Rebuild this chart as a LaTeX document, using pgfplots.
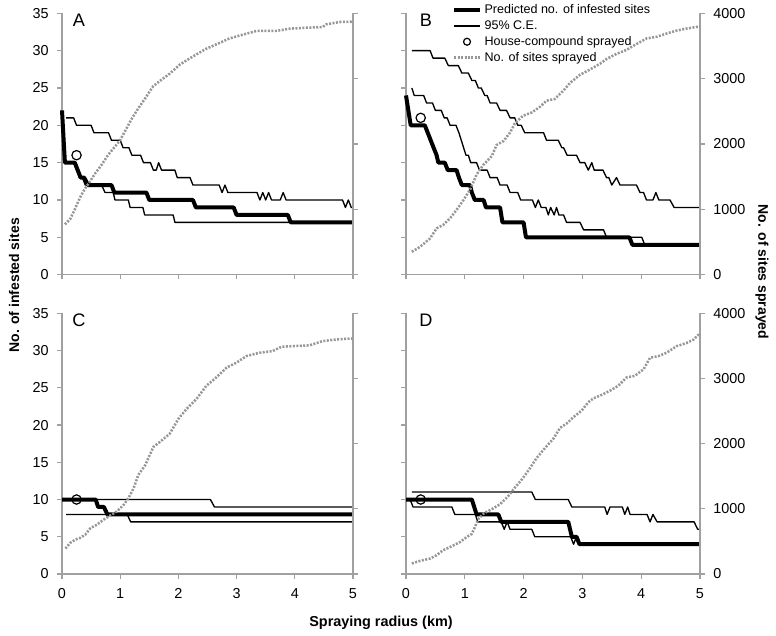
\documentclass[border=0pt]{standalone}
\usepackage{pgfplots}
\pgfplotsset{compat=1.18}
\usepackage{fontspec}
\setmainfont{Liberation Sans}
\definecolor{axgray}{RGB}{160,160,160}
\definecolor{dotgray}{RGB}{150,150,150}

\tikzset{
  thinl/.style={black, line width=1pt, line join=round},
  thickl/.style={black, line width=3pt, line join=round},
  dotl/.style={dotgray, line width=1.9pt, dash pattern=on 1.5pt off 1.1pt},
  circ/.style={only marks, mark=o, mark size=3.5pt, mark options={draw=black, fill=white, line width=0.9pt, solid}},
  letter/.style={font=\fontsize{13.6}{15}\selectfont},
}
\pgfplotsset{
  panel/.style={
    scale only axis,
    xmin=0, xmax=5,
    axis x line*=bottom,
    axis line style={draw=axgray, line width=0.9pt, -},
    tick style={draw=axgray, line width=0.9pt},
    tick align=outside,
    major tick length=3.5pt,
    xtick={0,1,2,3,4,5},
    ticklabel style={font=\fontsize{10.8}{13}\selectfont},
    xticklabel style={yshift=-4pt},
    /pgf/number format/assume math mode=true,
    /pgf/number format/1000 sep={},
    scaled ticks=false,
    clip=false,
  },
  leftax/.style={panel, ymin=0, ymax=35, ytick={0,5,...,35}, axis y line*=left, yticklabel style={xshift=-3pt}},
  rightax/.style={panel, ymin=0, ymax=4000, ytick={0,1000,...,4000}, axis y line*=right, axis x line=none, yticklabel style={xshift=3pt}},
}

\begin{document}
\begin{tikzpicture}
\path[use as bounding box] (0,0) rectangle (582pt,477pt);

% ---------------- Panel A ----------------
\begin{axis}[leftax, at={(46.5pt,271pt)}, anchor=south west, width=218.25pt, height=196pt, xticklabels={}]
\addplot[thinl, mark=none] table {
0.07 21
0.2 21
0.25 20
0.5 20
0.55 19
0.8 19
0.85 18
1.0 18
1.05 17
1.15 17
1.2 16
1.35 16
1.4 15
1.52 15
1.57 14
1.62 14
1.66 15
1.71 14
1.94 14
1.98 13
2.2 13
2.25 12
2.7 12
2.75 11
2.8 12
2.85 11
3.35 11
3.4 10
3.45 11
3.5 10
3.55 11
3.6 10
3.75 10
3.8 11
3.85 10
4.82 10
4.87 9
4.92 10
4.97 9
5 9
};
\addplot[thinl, mark=none] table {
0.07 15
0.2 15
0.25 14
0.3 13
0.35 13
0.4 12
0.68 12
0.74 11
0.88 11
0.91 10
1.14 10
1.17 9
1.39 9
1.42 8
1.91 8
1.94 7
5 7
};
\addplot[thickl, mark=none] table {
0 22
0.05 15
0.22 15
0.27 14
0.32 13
0.38 13
0.45 12
0.85 12
0.9 11
1.45 11
1.5 10
2.25 10
2.3 9
2.95 9
3.0 8
3.88 8
3.93 7
5 7
};
\addplot[circ] coordinates {(0.25,16)};
\node[letter] at (axis description cs:0.058,0.972) {A};
\end{axis}
\begin{axis}[rightax, at={(46.5pt,271pt)}, anchor=south west, width=218.25pt, height=196pt, yticklabels={}]
\addplot[dotl, mark=none] table {
0.05 770
0.14 850
0.22 1000
0.31 1180
0.39 1310
0.48 1425
0.57 1550
0.68 1680
0.79 1830
0.91 1960
1.0 2060
1.11 2240
1.2 2390
1.31 2545
1.43 2700
1.57 2888
1.68 2964
1.85 3076
2.03 3219
2.17 3296
2.31 3372
2.48 3459
2.68 3536
2.88 3617
3.17 3689
3.34 3730
3.68 3730
3.91 3765
4.2 3780
4.48 3790
4.54 3832
4.77 3867
5.0 3872
};
\end{axis}

% ---------------- Panel B ----------------
\begin{axis}[leftax, at={(304.5pt,271pt)}, anchor=south west, width=220.5pt, height=196pt, xticklabels={}, yticklabels={}]
\addplot[thinl, mark=none] table {
0.1 30
0.41 30
0.46 29
0.66 29
0.72 28
0.89 28
0.95 27
1.06 27
1.12 26
1.18 26
1.23 25
1.28 25
1.34 24
1.38 24
1.43 23
1.54 23
1.6 22
1.71 22
1.77 21
1.85 21
1.9 20
1.96 20
2.02 19
2.34 19
2.39 18
2.59 18
2.65 17
2.68 17
2.74 16
2.9 16
2.96 15
3.04 15
3.1 14
3.16 15
3.2 14
3.35 14
3.41 13
3.45 13
3.5 12
3.58 13
3.64 12
3.92 12
3.98 11
4.04 11
4.09 10
4.2 10
4.25 11
4.3 10
4.49 10
4.56 9
5 9
};
\addplot[thinl, mark=none] table {
0.1 25
0.14 24
0.3 24
0.35 23
0.45 23
0.5 22
0.6 22
0.65 21
0.7 21
0.75 20
0.85 20
0.9 19
0.94 18
0.98 17
1.02 16
1.06 16
1.1 15
1.2 15
1.25 14
1.38 14
1.43 13
1.55 13
1.6 12
1.72 12
1.77 11
1.9 11
1.95 10
2.15 10
2.2 9
2.25 10
2.3 9
2.38 9
2.42 8
2.46 9
2.52 8
2.56 9
2.6 8
2.68 8
2.73 7
2.96 7
3.02 6
3.36 6
3.41 5
4.01 5
4.06 4
5 4
};
\addplot[thickl, mark=none] table {
0 24
0.08 20
0.32 20
0.37 19
0.42 18
0.47 17
0.52 16
0.55 15
0.66 15
0.71 14
0.86 14
0.9 13
0.95 12
1.09 12
1.12 11
1.17 10
1.32 10
1.36 9
1.6 9
1.64 7
2.0 7
2.04 5
3.8 5
3.85 4
5 4
};
\addplot[circ] coordinates {(0.25,21)};
\node[letter] at (axis description cs:0.068,0.972) {B};
\end{axis}
\begin{axis}[rightax, at={(304.5pt,271pt)}, anchor=south west, width=220.5pt, height=196pt,
  legend style={at={(axis description cs:0.156,1.045)}, anchor=north west, draw=none, fill=none,
    font=\fontsize{9.4}{11}\selectfont, row sep=-0.3pt, inner sep=0pt, cells={anchor=west}},
  legend image code/.code={\draw[mark repeat=2,mark phase=2,#1] plot coordinates {(0cm,0cm) (0.34cm,0cm) (0.68cm,0cm)};}]
\addlegendimage{thickl, mark=none}
\addlegendimage{thinl, mark=none}
\addlegendimage{circ, mark size=2.6pt}
\addlegendimage{dotl, mark=none}
\addplot[dotl, mark=none, forget plot] table {
0.1 350
0.24 427
0.41 555
0.52 710
0.63 760
0.75 864
0.86 992
0.98 1146
1.09 1300
1.2 1532
1.32 1686
1.46 1815
1.54 1985
1.66 2046
1.77 2175
1.85 2314
1.99 2432
2.14 2483
2.28 2570
2.39 2663
2.53 2689
2.68 2820
2.79 2935
2.96 3060
3.13 3140
3.3 3229
3.41 3300
3.58 3380
3.75 3440
3.9 3520
4.09 3615
4.26 3640
4.43 3690
4.6 3735
4.77 3767
5.0 3800
};
\legend{Predicted no. of infested sites, 95\% C.E., House-compound sprayed, No. of sites sprayed}
\end{axis}

% ---------------- Panel C ----------------
\begin{axis}[leftax, at={(46.5pt,46.5pt)}, anchor=south west, width=218.25pt, height=195.5pt]
\addplot[thinl, mark=none] table {
0.07 10
2.55 10
2.62 9
5 9
};
\addplot[thinl, mark=none] table {
0.07 8
1.12 8
1.18 7
5 7
};
\addplot[thickl, mark=none] table {
0 10
0.58 10
0.62 9
0.72 9
0.78 8
5 8
};
\addplot[circ] coordinates {(0.25,10)};
\node[letter] at (axis description cs:0.058,0.972) {C};
\end{axis}
\begin{axis}[rightax, at={(46.5pt,46.5pt)}, anchor=south west, width=218.25pt, height=195.5pt, yticklabels={}]
\addplot[dotl, mark=none] table {
0.06 391
0.14 477
0.23 528
0.31 553
0.4 604
0.49 705
0.6 756
0.71 832
0.83 898
0.94 959
1.06 1061
1.14 1162
1.23 1315
1.31 1518
1.43 1670
1.57 1949
1.68 2025
1.85 2152
2.0 2381
2.14 2533
2.31 2685
2.48 2888
2.65 3015
2.83 3168
3.0 3244
3.17 3345
3.4 3396
3.62 3421
3.77 3487
3.97 3497
4.25 3508
4.48 3574
4.71 3599
4.99 3614
};
\end{axis}

% ---------------- Panel D ----------------
\begin{axis}[leftax, at={(304.5pt,46.5pt)}, anchor=south west, width=220.5pt, height=195.5pt, yticklabels={}]
\addplot[thinl, mark=none] table {
0.1 11
2.14 11
2.2 10
2.76 10
2.82 9
3.38 9
3.42 8
3.47 9
3.68 9
3.72 8
3.77 9
3.81 8
4.1 8
4.15 7
4.2 8
4.27 7
4.9 7
4.96 6
5 6
};
\addplot[thinl, mark=none] table {
0.07 10
0.12 9
0.78 9
0.83 8
1.18 8
1.22 7
1.62 7
1.67 6
1.72 7
1.77 6
2.14 6
2.19 5
2.8 5
2.85 4
2.9 5
2.95 4
5 4
};
\addplot[thickl, mark=none] table {
0 10
1.12 10
1.2 8
1.57 8
1.62 7
2.76 7
2.82 5
2.9 5
2.95 4
5 4
};
\addplot[circ] coordinates {(0.25,10)};
\node[letter] at (axis description cs:0.068,0.972) {D};
\end{axis}
\begin{axis}[rightax, at={(304.5pt,46.5pt)}, anchor=south west, width=220.5pt, height=195.5pt]
\addplot[dotl, mark=none] table {
0.1 162
0.24 202
0.41 237
0.52 288
0.63 364
0.75 414
0.92 490
1.03 566
1.12 616
1.17 717
1.23 843
1.32 929
1.46 995
1.6 1071
1.74 1197
1.85 1323
1.97 1449
2.11 1626
2.22 1778
2.36 1929
2.51 2081
2.62 2242
2.73 2308
2.85 2409
2.99 2510
3.1 2636
3.19 2697
3.3 2737
3.47 2813
3.61 2889
3.75 3015
3.89 3040
4.04 3141
4.15 3318
4.29 3343
4.43 3394
4.6 3495
4.77 3545
4.89 3596
5.0 3697
};
\end{axis}

% ---------------- Shared labels ----------------
\node[rotate=90, font=\bfseries\fontsize{10.5}{13}\selectfont] at (10.5pt,263pt) {No. of infested sites};
\node[rotate=-90, font=\bfseries\fontsize{10.5}{13}\selectfont] at (571.5pt,273pt) {No. of sites sprayed};
\node[font=\bfseries\fontsize{10.8}{13}\selectfont] at (285.75pt,9.75pt) {Spraying radius (km)};
\end{tikzpicture}
\end{document}
